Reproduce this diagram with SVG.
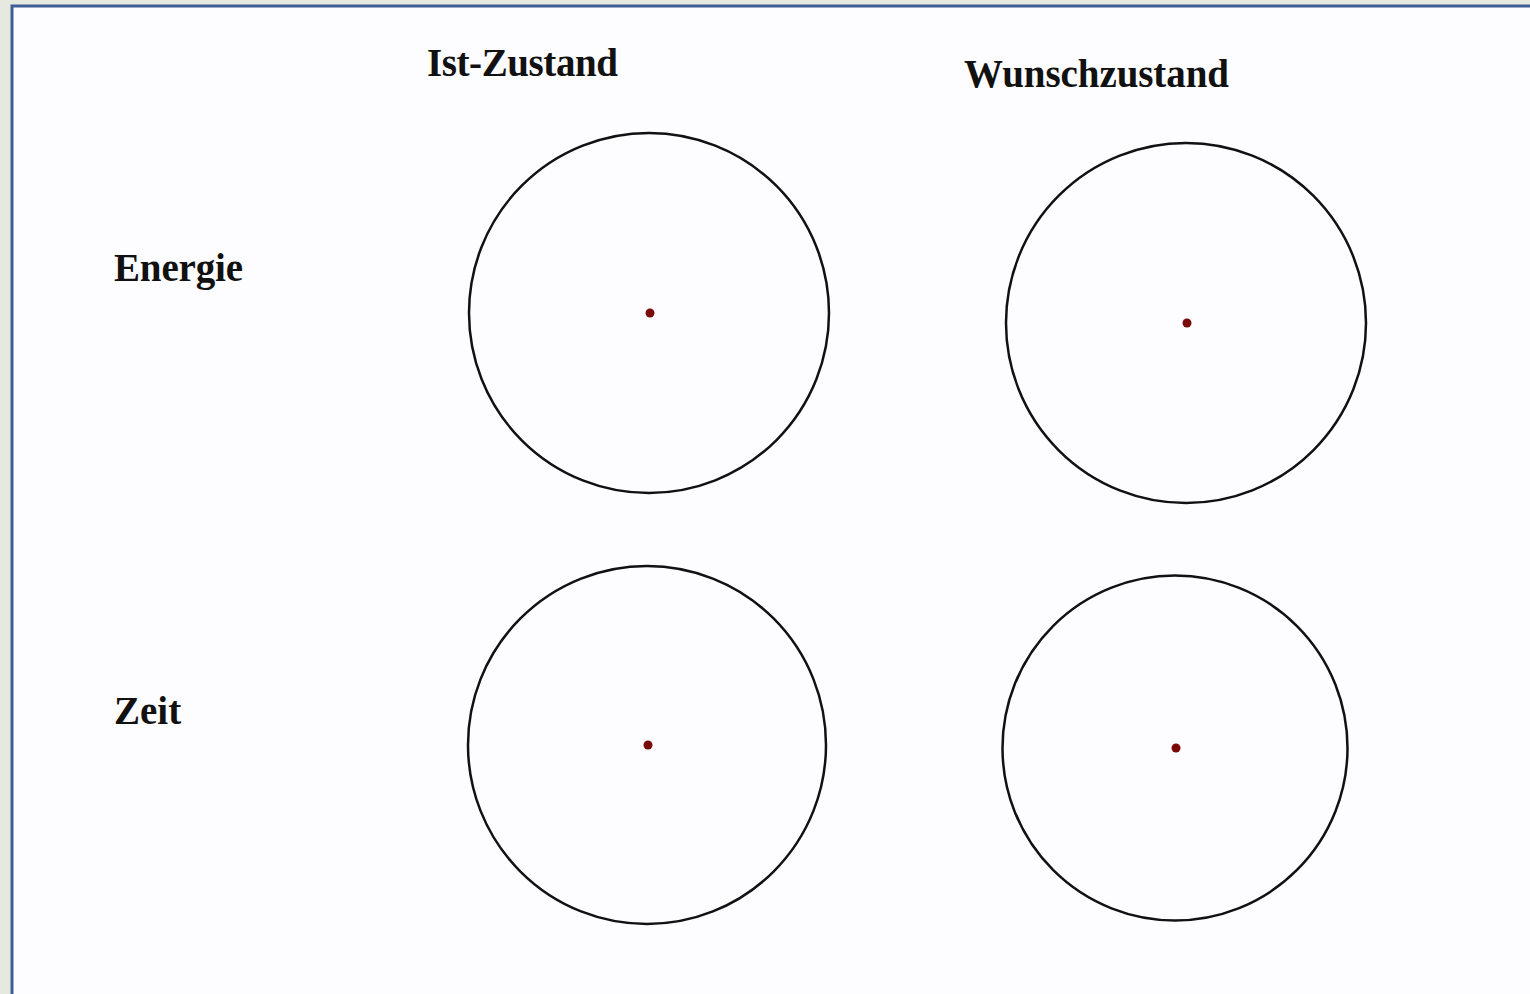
<svg xmlns="http://www.w3.org/2000/svg" width="1530" height="994" viewBox="0 0 1530 994">
<style>
.lbl{font-family:"Liberation Serif","Times New Roman",serif;font-weight:bold;font-size:39px;fill:#111}
.ring{fill:none;stroke:#111;stroke-width:2.5}
.dot{fill:#7a0a0a}
</style>
<rect x="0" y="0" width="1530" height="994" fill="#e6e9df"/>
<rect x="12" y="6" width="1530" height="1000" fill="#fdfcff" stroke="#3d5f96" stroke-width="3"/>
<g id="labels">
<text class="lbl" x="427" y="76" textLength="191">Ist-Zustand</text>
<text class="lbl" x="964" y="87" textLength="265">Wunschzustand</text>
<text class="lbl" x="114" y="281" textLength="129">Energie</text>
<text class="lbl" x="114" y="724">Zeit</text>
</g>
<g id="energie-ist"><circle class="ring" cx="649" cy="313" r="180"/><circle class="dot" cx="650" cy="313" r="4.5"/></g>
<g id="energie-wunsch"><circle class="ring" cx="1186" cy="323" r="180"/><circle class="dot" cx="1187" cy="323" r="4.5"/></g>
<g id="zeit-ist"><circle class="ring" cx="647" cy="745" r="179"/><circle class="dot" cx="648" cy="745" r="4.5"/></g>
<g id="zeit-wunsch"><circle class="ring" cx="1175" cy="748" r="172.5"/><circle class="dot" cx="1176" cy="748" r="4.5"/></g>
<g id="connectors"></g>
</svg>
